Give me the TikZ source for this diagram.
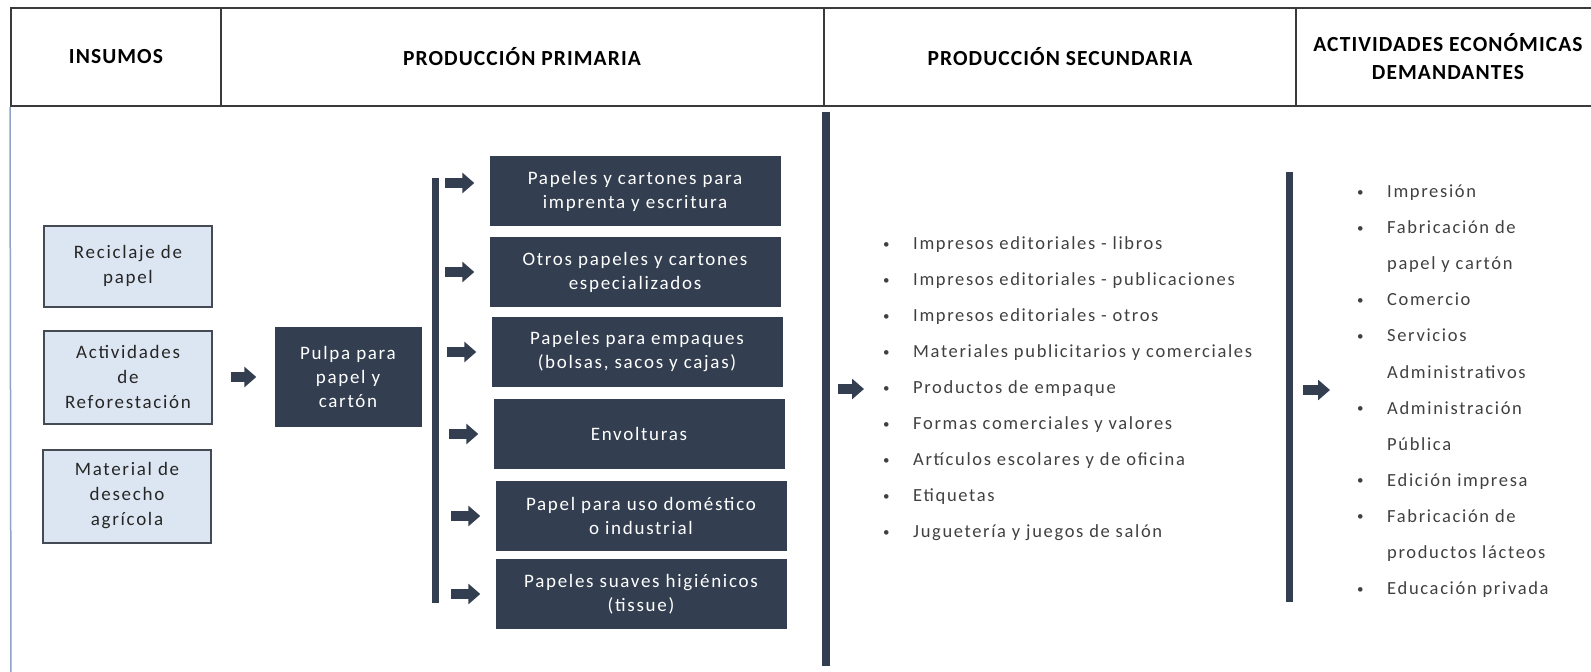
\documentclass[tikz,border=0pt]{standalone}
\usepackage{fontspec}
\setmainfont{Carlito}[LetterSpace=9]
\newfontfamily\headfont{Carlito}[LetterSpace=5]
\usetikzlibrary{arrows.meta}

\definecolor{boxdark}{HTML}{333F50}
\definecolor{boxlight}{HTML}{DCE6F2}
\definecolor{boxedge}{HTML}{454B55}
\definecolor{rulecol}{HTML}{3A3A3A}
\definecolor{sidecol}{HTML}{8FA3C4}
\definecolor{listcol}{HTML}{404040}

\newcommand{\bul}[1]{\makebox[30pt][l]{\raisebox{1.5pt}{\fontsize{13}{13}\selectfont\textbullet}}#1}
\newcommand{\cont}[1]{\hspace*{30pt}#1}

\begin{document}
\begin{tikzpicture}[x=1pt,y=-1pt,
    head/.style={draw=rulecol, line width=2pt, minimum height=98pt, align=center,
      font=\headfont\fontsize{21.5}{28}\selectfont\bfseries},
    inbox/.style={draw=boxedge, fill=boxlight, line width=2pt, minimum width=168pt,
      minimum height=93pt, inner sep=0pt, align=center, text=black!85,
      font=\fontsize{19}{25}\selectfont},
    prodbox/.style={fill=boxdark, text=white, minimum width=291pt, minimum height=70pt,
      inner sep=0pt, align=center, font=\fontsize{19}{24}\selectfont},
    item/.style={anchor=west, inner sep=0pt, text=listcol, text height=13pt,
      text depth=4pt, font=\fontsize{18.5}{22}\selectfont},
    bar/.style={boxdark, line width=7pt},
    blk/.style={boxdark, line width=10pt, -{Triangle[length=12pt,width=20pt]}}]
    \useasboundingbox (0,0) rectangle (1591,672);

    % header row
    \path ( 116,57) node [head, minimum width=210pt] (hin) {INSUMOS};
    \path ( 522,57) node [head, minimum width=603pt] (hpp) {PRODUCCIÓN PRIMARIA};
    \path (1060,57) node [head, minimum width=472pt] (hps) {PRODUCCIÓN SECUNDARIA};
    \path (1448,57) node [head, minimum width=304pt] (hac) {ACTIVIDADES ECONÓMICAS\\DEMANDANTES};
    \draw [sidecol, line width=1.5pt] (hin.south west) -- (11,672);

    % insumos
    \path (128,266) node [inbox, minimum height=81pt] (rec) {Reciclaje de\\papel};
    \path (128,377) node [inbox] (act) {Actividades\\de\\Reforestación};
    \path (127,496) node [inbox] (mat) {Material de\\desecho\\agrícola};
    \path (348,377) node [prodbox, minimum width=147pt, minimum height=100pt] (pul) {Pulpa para\\papel y\\cartón};
    \draw [blk] ([xshift=18pt]act.east) -- ([xshift=-18pt]pul.west);

    % produccion primaria
    \draw [bar] (435,178) -- (435,603);
    \path (635,191) node [prodbox] (p1) {Papeles y cartones para\\imprenta y escritura};
    \path (635,272) node [prodbox] (p2) {Otros papeles y cartones\\especializados};
    \path (637,352) node [prodbox] (p3) {Papeles para empaques\\(bolsas, sacos y cajas)};
    \path (639,434) node [prodbox] (p4) {Envolturas};
    \path (641,516) node [prodbox] (p5) {Papel para uso doméstico\\o industrial};
    \path (641,594) node [prodbox] (p6) {Papeles suaves higiénicos\\(tissue)};
    \draw [blk] ([xshift=-44pt,yshift=8pt]p1.west) -- ([xshift=-15pt,yshift=8pt]p1.west);
    \draw [blk] ([xshift=-44pt]p2.west) -- ([xshift=-15pt]p2.west);
    \draw [blk] ([xshift=-44pt]p3.west) -- ([xshift=-15pt]p3.west);
    \draw [blk] ([xshift=-44pt]p4.west) -- ([xshift=-15pt]p4.west);
    \draw [blk] ([xshift=-44pt]p5.west) -- ([xshift=-15pt]p5.west);
    \draw [blk] ([xshift=-44pt]p6.west) -- ([xshift=-15pt]p6.west);

    % produccion secundaria
    \draw [bar, line width=8pt] (826,112) -- (826,666);
    \foreach \t [count=\i] in {Impresos editoriales - libros,
        Impresos editoriales - publicaciones, Impresos editoriales - otros,
        Materiales publicitarios y comerciales, Productos de empaque,
        Formas comerciales y valores, Artículos escolares y de oficina,
        Etiquetas, Juguetería y juegos de salón}
      \path (883,209+36*\i) node [item] (s\i) {\bul{\t}};
    \draw [blk] ([xshift=-45pt]s5.west) -- ([xshift=-19pt]s5.west);

    % actividades demandantes
    \draw [bar] (1289,172) -- (1289,602);
    \coordinate (rb) at (1289,390);
    \draw [blk] ([xshift=14pt]rb) -- ([xshift=41pt]rb);
    \foreach \t [count=\i] in {\bul{Impresión}, \bul{Fabricación de}, \cont{papel y cartón},
        \bul{Comercio}, \bul{Servicios}, \cont{Administrativos},
        \bul{Administración}, \cont{Pública}, \bul{Edición impresa},
        \bul{Fabricación de}, \cont{productos lácteos}, \bul{Educación privada}}
      \path (1357,156.9+36.1*\i) node [item] (d\i) {\t};
\end{tikzpicture}
\end{document}
